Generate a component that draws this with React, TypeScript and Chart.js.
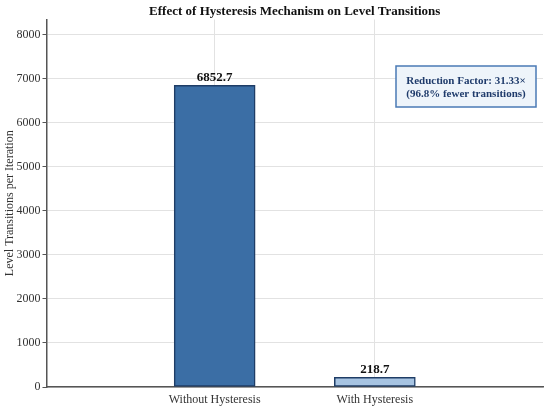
import React, { useEffect, useRef } from "react";
import { Chart, registerables } from "chart.js";

Chart.register(...registerables);

const categories = ["Without Hysteresis", "With Hysteresis"];
const values = [6852.7, 218.7];
const valueLabels = ["6852.7", "218.7"];
const barColors = ["#3b6ea5", "#a7c4e2"];
const yTicks = [0, 1000, 2000, 3000, 4000, 5000, 6000, 7000, 8000];
const titleText = "Effect of Hysteresis Mechanism on Level Transitions";
const annotationLines = ["Reduction Factor: 31.33×", "(96.8% fewer transitions)"];

const FONT = "'Liberation Serif', 'DejaVu Serif', serif";

export default function App() {
  const ref = useRef<HTMLCanvasElement | null>(null);

  useEffect(() => {
    document.body.style.margin = "0";
    const canvas = ref.current;
    if (!canvas) return;

    const labelPlugin = {
      id: "labels",
      afterDatasetsDraw(chart: any) {
        const ctx = chart.ctx;
        const area = chart.chartArea;
        const meta = chart.getDatasetMeta(0);
        ctx.save();
        // title
        ctx.font = `bold 13px ${FONT}`;
        ctx.fillStyle = "#111";
        ctx.textAlign = "center";
        ctx.textBaseline = "middle";
        ctx.fillText(titleText, (area.left + area.right) / 2, 11.5);
        // value labels
        ctx.textBaseline = "alphabetic";
        meta.data.forEach((el: any, i: number) => {
          ctx.fillText(valueLabels[i], el.x, el.y - 4);
        });
        // annotation box
        const x0 = 396, y0 = 66, w = 140, h = 41;
        ctx.fillStyle = "#eef4fa";
        ctx.fillRect(x0, y0, w, h);
        ctx.strokeStyle = "#4a7ab5";
        ctx.lineWidth = 1.5;
        ctx.strokeRect(x0, y0, w, h);
        ctx.fillStyle = "#1f3b6b";
        ctx.font = `bold 11px ${FONT}`;
        ctx.textBaseline = "middle";
        ctx.fillText(annotationLines[0], x0 + w / 2, y0 + 15);
        ctx.fillText(annotationLines[1], x0 + w / 2, y0 + 28.5);
        ctx.restore();
      },
    };

    const chart = new Chart(canvas, {
      type: "bar",
      data: {
        datasets: [
          {
            data: values.map((v, i) => ({ x: i, y: v })),
            backgroundColor: barColors,
            borderColor: "#1f3d66",
            borderWidth: 1.5,
            borderSkipped: false,
            barThickness: 81,
          } as any,
        ],
      },
      options: {
        animation: false,
        responsive: false,
        maintainAspectRatio: false,
        devicePixelRatio: 1,
        layout: { padding: { left: 0, right: 7, top: 19.5, bottom: 0 } },
        plugins: {
          legend: { display: false },
          tooltip: { enabled: false },
          title: { display: false },
        },
        scales: {
          x: {
            type: "linear",
            offset: false,
            min: -1.05,
            max: 2.05,
            afterBuildTicks(axis: any) {
              axis.ticks = categories.map((_, i) => ({ value: i }));
            },
            afterFit(axis: any) {
              axis.height = 22;
            },
            ticks: {
              callback: (v: any) => categories[v] ?? "",
              font: { family: FONT, size: 12 },
              color: "#333",
              padding: 6,
              maxRotation: 0,
              autoSkip: false,
            },
            grid: { color: "#e2e2e2", lineWidth: 1, drawTicks: false, offset: false },
            border: { display: true, color: "#555", width: 1.5 },
          },
          y: {
            min: 0,
            max: 8350,
            afterBuildTicks(axis: any) {
              axis.ticks = yTicks.map((v) => ({ value: v }));
            },
            afterFit(axis: any) {
              axis.width = 46.5;
            },
            ticks: {
              font: { family: FONT, size: 12 },
              color: "#333",
              padding: 2,
              callback: (v: any) => String(v),
            },
            grid: { color: "#e2e2e2", lineWidth: 1, tickColor: "#555", tickLength: 4, drawTicks: true },
            border: { display: true, color: "#555", width: 1.5 },
            title: {
              display: true,
              text: "Level Transitions per Iteration",
              font: { family: FONT, size: 12 },
              color: "#333",
              padding: { top: 3, bottom: 0 },
            },
          },
        },
      },
      plugins: [labelPlugin],
    });
    return () => chart.destroy();
  }, []);

  return (
    <div style={{ width: 550, height: 409 }}>
      <canvas ref={ref} width={550} height={409} style={{ display: "block" }} />
    </div>
  );
}
